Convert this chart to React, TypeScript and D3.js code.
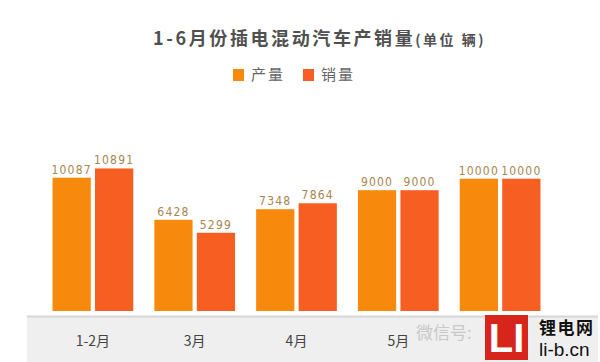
import { useEffect, useRef } from 'react';
import * as d3 from 'd3';

const months = ['1-2月', '3月', '4月', '5月', '6月'];
const seriesNames = ['产量', '销量'];
const production = [10087, 6428, 7348, 9000, 10000];
const sales = [10891, 5299, 7864, 9000, 10000];
const colors = ['#F7890D', '#F65E22'];

const App = () => {
  const svgRef = useRef<SVGSVGElement>(null!);

  useEffect(() => {
    const width = 600;
    const height = 362;
    const svg = d3.select(svgRef.current);
    svg.attr('width', width).attr('height', height);

    const cjk = '"Noto Sans CJK SC", "Noto Sans", sans-serif';
    const numFont = '"Liberation Sans Narrow", "DejaVu Sans Condensed", "Roboto", sans-serif';

    // bottom band
    svg.append('rect').attr('x', 27).attr('y', 316).attr('width', 571).attr('height', 46).attr('fill', '#EFEFEF');
    svg.append('line').attr('x1', 27).attr('x2', 598).attr('y1', 316.5).attr('y2', 316.5).attr('stroke', '#D6D6D6').attr('stroke-width', 2);

    // title
    const title = svg.append('text').attr('x', 153).attr('y', 45).attr('fill', '#505050').style('font-family', cjk);
    title.append('tspan').attr('font-size', 18).attr('font-weight', 'bold').attr('letter-spacing', 2.6).text('1-6月份插电混动汽车产销量');
    title.append('tspan').attr('font-size', 14).attr('font-weight', 'bold').attr('letter-spacing', 2.5).attr('dx', 0).text('(单位  辆)');

    // legend
    const legendX = [233, 303];
    seriesNames.forEach((name, i) => {
      svg.append('rect').attr('x', legendX[i]).attr('y', 69).attr('width', 11).attr('height', 12).attr('fill', colors[i]);
      svg.append('text')
        .attr('x', legendX[i] + 18)
        .attr('y', 80)
        .attr('font-size', 15)
        .attr('fill', '#666')
        .style('font-family', cjk)
        .attr('letter-spacing', 2)
        .text(name);
    });

    const x0 = d3.scaleBand().domain(months).range([42, 551]).paddingInner(0.207).paddingOuter(0.1035);
    const x1 = d3.scaleBand().domain(seriesNames).range([0, x0.bandwidth()]).paddingInner(0.1);
    const yFloor = -1500;
    const y = d3.scaleLinear().domain([yFloor, 10000]).range([311, 178.7]);

    const rows = months.flatMap((m, i) => [
      { month: m, series: seriesNames[0], value: production[i] },
      { month: m, series: seriesNames[1], value: sales[i] },
    ]);

    const g = svg.append('g');
    g.selectAll('rect')
      .data(rows)
      .enter()
      .append('rect')
      .attr('x', d => (x0(d.month) ?? 0) + (x1(d.series) ?? 0))
      .attr('y', d => y(d.value))
      .attr('width', x1.bandwidth())
      .attr('height', d => y(yFloor) - y(d.value))
      .attr('fill', d => colors[seriesNames.indexOf(d.series)]);

    g.selectAll('text.val')
      .data(rows)
      .enter()
      .append('text')
      .attr('class', 'val')
      .attr('x', d => (x0(d.month) ?? 0) + (x1(d.series) ?? 0) + x1.bandwidth() / 2)
      .attr('y', d => y(d.value) - 4)
      .attr('text-anchor', 'middle')
      .attr('font-size', 12)
      .attr('letter-spacing', 1.2)
      .attr('fill', '#A8864F')
      .style('font-family', numFont)
      .text(d => d.value);

    // category labels
    svg.selectAll('text.cat')
      .data(months)
      .enter()
      .append('text')
      .attr('class', 'cat')
      .attr('x', d => (x0(d) ?? 0) + x0.bandwidth() / 2)
      .attr('y', 346)
      .attr('text-anchor', 'middle')
      .attr('font-size', 14)
      .attr('fill', '#444')
      .style('font-family', cjk)
      .text(d => d);

    // watermark
    svg.append('text').attr('x', 416).attr('y', 339).attr('font-size', 17).attr('fill', '#C8C8C8').style('font-family', cjk).text('微信号:');
    svg.append('rect').attr('x', 485).attr('y', 315).attr('width', 43).attr('height', 45).attr('fill', '#D8251B');
    svg.append('text').attr('x', 506.5).attr('y', 352).attr('text-anchor', 'middle').attr('font-size', 40).attr('font-weight', 'bold').attr('fill', '#fff').style('font-family', '"Liberation Sans Narrow", sans-serif').text('LI');
    svg.append('text').attr('x', 539).attr('y', 334).attr('font-size', 17).attr('font-weight', 'bold').attr('letter-spacing', 1.5).attr('fill', '#111').style('font-family', cjk).text('锂电网');
    svg.append('text').attr('x', 539).attr('y', 356).attr('font-size', 19).attr('fill', '#111').style('font-family', '"Liberation Sans Narrow", sans-serif').text('li-b.cn');

    return () => {
      svgRef.current.innerHTML = '';
    };
  }, []);

  return <svg ref={svgRef} style={{ position: 'absolute', left: 0, top: 0, background: '#fff' }}></svg>;
};

export default App;
